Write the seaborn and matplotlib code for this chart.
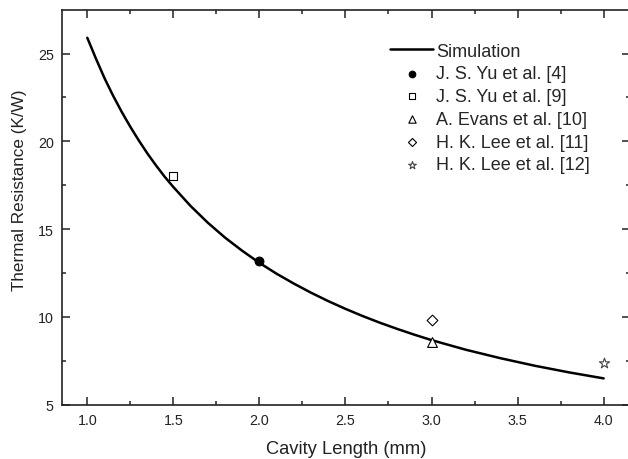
import matplotlib
matplotlib.use("Agg")
import matplotlib.pyplot as plt
from matplotlib.ticker import MultipleLocator, FormatStrFormatter
import pandas as pd
import seaborn as sns

# simulation curve
sim_length = [1.0, 1.05, 1.1, 1.15, 1.2, 1.25, 1.3, 1.35, 1.4, 1.45, 1.5, 1.6, 1.7,
              1.8, 1.9, 2.0, 2.1, 2.2, 2.3, 2.4, 2.5, 2.6, 2.7, 2.8, 2.9, 3.0,
              3.2, 3.4, 3.6, 3.8, 4.0]
sim_resist = [25.9, 24.72, 23.6, 22.6, 21.68, 20.83, 20.04, 19.3, 18.62, 17.98, 17.4, 16.32, 15.37,
              14.52, 13.77, 13.08, 12.46, 11.9, 11.38, 10.9, 10.46, 10.05, 9.67, 9.32, 8.99, 8.68,
              8.13, 7.65, 7.22, 6.84, 6.5]

# measured / reported points
ref_labels = ["J. S. Yu et al. [4]", "J. S. Yu et al. [9]", "A. Evans et al. [10]",
              "H. K. Lee et al. [11]", "H. K. Lee et al. [12]"]
ref_length = [2.0, 1.5, 3.0, 3.0, 4.0]
ref_resist = [13.2, 18.0, 8.6, 9.8, 7.4]

sns.set_style("ticks")
plt.rcParams["font.family"] = ["Liberation Sans", "DejaVu Sans"]

fig = plt.figure(figsize=(6.28, 4.6), dpi=100)
ax = fig.add_axes([0.0987, 0.118, 0.905, 0.858])

sim = pd.DataFrame({"L": sim_length, "R": sim_resist})
sns.lineplot(data=sim, x="L", y="R", ax=ax, color="black", linewidth=1.8,
             label="Simulation")

markers = ["o", "s", "^", "D", "*"]
sizes = [40, 36, 50, 30, 60]
for lab, x, y, m, s in zip(ref_labels, ref_length, ref_resist, markers, sizes):
    filled = m == "o"
    sns.scatterplot(x=[x], y=[y], ax=ax, marker=m, s=s,
                    color="black" if filled else "white",
                    edgecolor="black" if m != "*" else "#444444",
                    linewidth=0.8, label=lab, zorder=3)

ax.set_xlim(0.853, 4.155)
ax.set_ylim(5, 27.48)
ax.xaxis.set_major_locator(MultipleLocator(0.5))
ax.xaxis.set_minor_locator(MultipleLocator(0.25))
ax.yaxis.set_major_locator(MultipleLocator(5))
ax.yaxis.set_minor_locator(MultipleLocator(2.5))
ax.xaxis.set_major_formatter(FormatStrFormatter("%.1f"))

ax.tick_params(which="both", direction="in", top=True, right=True,
               width=1.1, colors="#222222", labelsize=10.3, labelcolor="#222222")
ax.tick_params(which="major", length=6, pad=6)
ax.tick_params(which="minor", length=3)
for sp in ax.spines.values():
    sp.set_linewidth(1.2)
    sp.set_color("#222222")

ax.set_xlabel("Cavity Length (mm)", fontsize=13.2, labelpad=9, color="#222222")
ax.set_ylabel("Thermal Resistance (K/W)", fontsize=12.3, labelpad=8, color="#222222")
ax.yaxis.set_label_coords(-0.061, 0.546)

ax.legend(frameon=False, loc="upper left", bbox_to_anchor=(0.558, 0.945),
          fontsize=13, handlelength=2.4, handletextpad=0.15,
          labelspacing=0.32, borderaxespad=0.2, markerscale=0.75)

fig.savefig("out.png", dpi=100)
